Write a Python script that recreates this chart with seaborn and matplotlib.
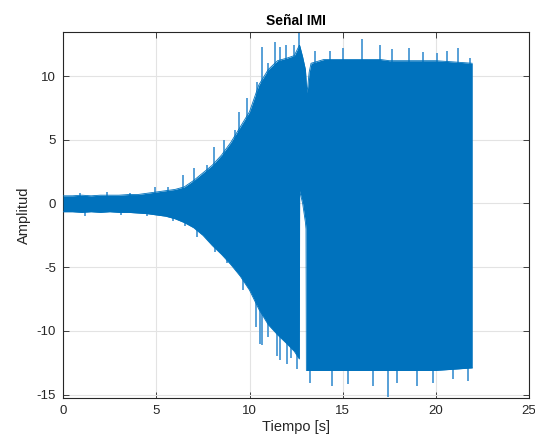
import numpy as np
import pandas as pd
import seaborn as sns
import matplotlib
matplotlib.use("Agg")
import matplotlib.pyplot as plt

# ---- Data: envelope of the IMI signal ----
tiempo = [0.0, 0.5, 1.0, 1.5, 2.0, 2.5, 3.0, 3.5, 4.0, 4.5, 5.0, 5.5, 6.0, 6.5,
          7.0, 7.5, 8.0, 8.5, 9.0, 9.5, 10.0, 10.5, 11.0, 11.5, 12.0, 12.4,
          12.67, 12.69, 12.85, 13.0, 13.03, 13.05, 13.09, 13.2, 13.3, 14.0,
          15.0, 16.0, 17.0, 17.5, 18.0, 19.0, 20.0, 21.0, 21.95]
# solid core of the signal (upper / lower edge)
sup_core = [0.6, 0.6, 0.65, 0.6, 0.65, 0.65, 0.65, 0.7, 0.7, 0.8, 0.9, 1.0, 1.1, 1.3,
            1.8, 2.4, 3.0, 3.8, 4.8, 6.0, 7.2, 9.3, 10.5, 11.2, 11.4, 11.6,
            12.4, 12.4, 11.5, 10.5, 9.8, 9.3, 8.7, 10.3, 11.0, 11.3,
            11.3, 11.3, 11.3, 11.2, 11.2, 11.2, 11.2, 11.1, 11.0]
inf_core = [-0.65, -0.65, -0.7, -0.65, -0.7, -0.65, -0.7, -0.7, -0.75, -0.8, -0.9, -1.0, -1.2, -1.5,
            -1.9, -2.5, -3.3, -4.0, -4.8, -5.7, -6.8, -8.3, -9.5, -10.3, -11.0, -11.6,
            -12.2, 1.0, 0.0, -1.5, -2.0, -13.1, -13.1, -13.1, -13.1, -13.1,
            -13.1, -13.1, -13.1, -13.1, -13.1, -13.1, -13.1, -13.0, -12.9]
# isolated spikes beyond the core
pico_sup_t = [0.9, 2.34, 3.6, 4.94, 5.6, 6.45, 7.03, 7.7, 8.12, 8.65, 9.2, 9.46, 9.85,
              10.39, 10.66, 11.0, 11.34, 11.64, 11.96, 12.36, 12.66, 13.52, 14.3,
              15.0, 16.02, 17.0, 17.63, 18.53, 19.3, 20.05, 20.6, 21.2, 21.83]
pico_sup_v = [0.85, 0.93, 0.85, 1.3, 1.3, 2.2, 2.8, 3.0, 4.46, 5.0, 5.8, 7.2, 8.3,
              9.55, 12.3, 11.0, 12.7, 12.3, 12.4, 12.4, 13.4, 12.0, 12.0,
              12.2, 12.9, 12.4, 12.1, 12.2, 11.9, 11.8, 12.0, 12.2, 11.4]
pico_inf_t = [1.2, 3.1, 4.5, 5.9, 6.55, 7.17, 7.98, 8.15, 8.78, 9.66, 10.35, 10.57,
              10.66, 11.0, 11.46, 11.64, 12.0, 12.2, 12.54, 13.25, 14.4, 15.3,
              16.6, 17.44, 17.9, 18.97, 19.85, 20.9, 21.7]
pico_inf_v = [-0.95, -0.9, -1.0, -1.4, -1.8, -2.6, -3.1, -3.8, -4.7, -6.8, -9.66, -11.0,
              -11.1, -10.5, -12.0, -12.3, -12.6, -12.1, -13.0, -14.1, -14.3, -14.2,
              -14.3, -15.2, -14.1, -14.3, -14.1, -13.8, -13.9]

x_ticks = [0, 5, 10, 15, 20, 25]
y_ticks = [-15, -10, -5, 0, 5, 10]

df = pd.DataFrame({"t": tiempo, "sup": sup_core, "inf": inf_core})
picos = pd.DataFrame({"t": pico_sup_t + pico_inf_t,
                      "v": pico_sup_v + pico_inf_v})

sns.set_theme(style="whitegrid")
plt.rcParams["font.family"] = ["Liberation Sans", "DejaVu Sans"]

fig = plt.figure(figsize=(5.35, 4.45), dpi=100)
ax = fig.add_axes([0.118, 0.106, 0.871, 0.822])
ax.set_facecolor("white")

azul = "#0072BD"
azul_claro = "#4A98D4"
ax.vlines(picos["t"], 0, picos["v"], color=azul_claro, linewidth=1.3, zorder=2)
ax.fill_between(df["t"], df["inf"], df["sup"], color=azul, linewidth=0, zorder=3)
sns.lineplot(data=df, x="t", y="sup", ax=ax, color=azul, linewidth=0.6, zorder=3)
sns.lineplot(data=df, x="t", y="inf", ax=ax, color=azul, linewidth=0.6, zorder=3)

ax.set_xlim(0, 25)
ax.set_ylim(-15.25, 13.45)
ax.set_xticks(x_ticks)
ax.set_yticks(y_ticks)
ax.set_xticklabels([str(v) for v in x_ticks])
ax.set_yticklabels([str(v) for v in y_ticks])

ax.grid(True, color="#E3E3E3", linewidth=0.8)
ax.set_axisbelow(True)
for s in ax.spines.values():
    s.set_color("#262626")
    s.set_linewidth(0.8)
    s.set_visible(True)
ax.tick_params(direction="in", length=4, width=0.6, color="#262626",
               labelcolor="#262626", labelsize=9.5, top=True, right=True,
               bottom=True, left=True, pad=5)

ax.set_title("Señal IMI", fontsize=10, fontweight="bold", color="black", pad=5)
ax.set_xlabel("Tiempo [s]", fontsize=10.5, color="#262626", labelpad=2)
ax.set_ylabel("Amplitud", fontsize=10.5, color="#262626", labelpad=4)

fig.savefig("out.png", dpi=100, facecolor="white")
